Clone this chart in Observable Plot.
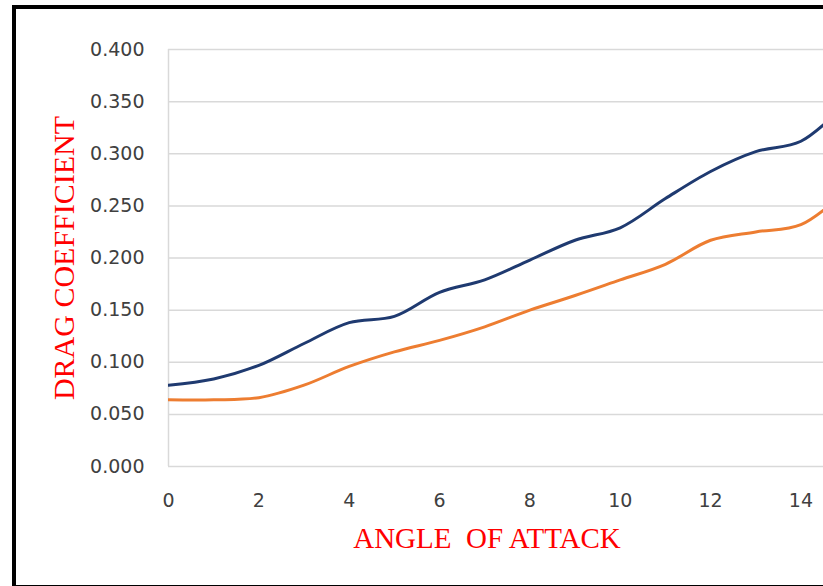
<!DOCTYPE html>
<html>
<head>
<meta charset="utf-8">
<script src="https://cdn.jsdelivr.net/npm/d3@7"></script>
<script src="https://cdn.jsdelivr.net/npm/@observablehq/plot@0.6"></script>
<style>
  html, body { margin: 0; padding: 0; background: #fff; }
  #wrap { position: relative; width: 823px; height: 586px; overflow: hidden; }
  #frame { position: absolute; left: 12px; top: 5px; width: 900px; height: 576px;
           border-left: 4px solid #000; border-top: 4px solid #000; border-bottom: 3px solid #000;
           pointer-events: none; z-index: 2; }
  #chart svg { position: absolute; left: 0; top: 0; }
</style>
</head>
<body>
<div id="wrap"><div id="chart"></div><div id="frame"></div></div>
<script>
const angles = [0, 1, 2, 3, 4, 5, 6, 7, 8, 9, 10, 11, 12, 13, 14, 15];
const seriesA = [0.078, 0.084, 0.097, 0.118, 0.138, 0.144, 0.167, 0.179, 0.198, 0.217, 0.229, 0.257, 0.283, 0.302, 0.312, 0.348];
const seriesB = [0.064, 0.064, 0.066, 0.078, 0.096, 0.110, 0.121, 0.134, 0.150, 0.164, 0.179, 0.194, 0.217, 0.225, 0.232, 0.264];
const yTicks = [0, 0.05, 0.1, 0.15, 0.2, 0.25, 0.3, 0.35, 0.4];
const xTicks = [0, 2, 4, 6, 8, 10, 12, 14];
const xLabel = "ANGLE  OF ATTACK";
const yLabel = "DRAG COEFFICIENT";

const dataA = angles.map((a, i) => ({a, v: seriesA[i]}));
const dataB = angles.map((a, i) => ({a, v: seriesB[i]}));

const chart = Plot.plot({
  width: 823,
  height: 586,
  marginLeft: 168,
  marginRight: 0,
  marginTop: 49,
  marginBottom: 120,
  style: {fontFamily: "DejaVu Sans", fontSize: "19px", color: "#404040", background: "transparent"},
  x: {domain: [0, 14.5]},
  y: {domain: [0, 0.4]},
  marks: [
    Plot.gridY(yTicks, {stroke: "#d9d9d9", strokeOpacity: 1, strokeWidth: 1.5}),
    Plot.ruleX([0], {stroke: "#d9d9d9", strokeWidth: 1.5}),
    Plot.axisY(yTicks, {tickSize: 0, tickPadding: 24, tickFormat: d3.format(".3f"), label: null, fill: "#404040"}),
    Plot.axisX(xTicks, {tickSize: 0, tickPadding: 27, label: null, fill: "#404040"}),
    Plot.line(dataB, {x: "a", y: "v", stroke: "#ed7d31", strokeWidth: 3, curve: "catmull-rom", clip: true}),
    Plot.line(dataA, {x: "a", y: "v", stroke: "#1f3a70", strokeWidth: 3, curve: "catmull-rom", clip: true}),
    Plot.text([xLabel], {frameAnchor: "bottom", textAnchor: "middle", dx: -9, dy: 81, text: d => d, fill: "#ff0000", fontFamily: "Liberation Serif", fontSize: 29}),
    Plot.text([yLabel], {frameAnchor: "left", textAnchor: "middle", dx: -104, dy: 0, rotate: -90, text: d => d, fill: "#ff0000", fontFamily: "Liberation Serif", fontSize: 30})
  ]
});
document.getElementById("chart").appendChild(chart);
</script>
</body>
</html>
